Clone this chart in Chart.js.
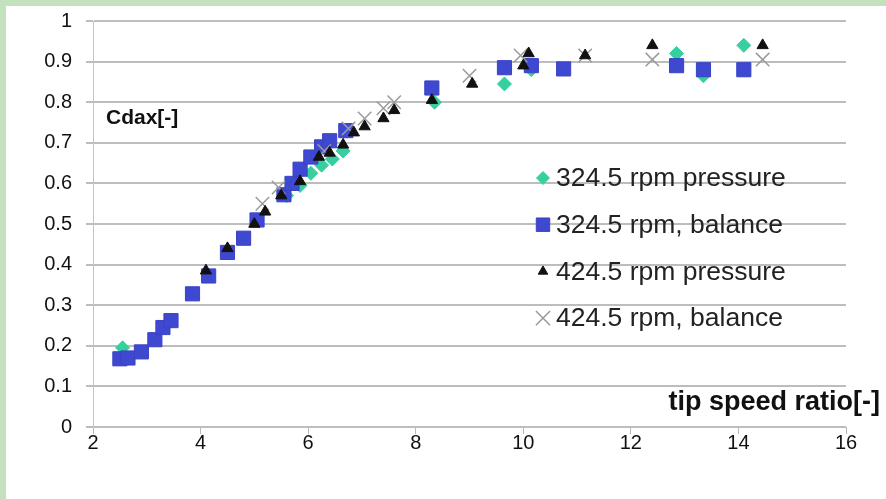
<!DOCTYPE html>
<html>
<head>
<meta charset="utf-8">
<script src="https://cdn.jsdelivr.net/npm/chart.js@4/dist/chart.umd.min.js"></script>
<style>
  html, body { margin: 0; padding: 0; background: #fff; }
  #wrap { position: relative; width: 886px; height: 499px; }
</style>
</head>
<body>
<div id="wrap"><canvas id="cdaxChart" width="886" height="499"></canvas></div>
<script>
// 데이터: 끝속도비(tip speed ratio) 대비 Cdax
const xTicks = [2, 4, 6, 8, 10, 12, 14, 16];
const seriesLabels = ['324.5 rpm pressure', '324.5 rpm, balance', '424.5 rpm pressure', '424.5 rpm, balance'];

const p324Tsr = [2.55, 5.6, 5.85, 6.05, 6.25, 6.45, 6.65, 8.35, 9.65, 10.15, 12.85, 13.35, 14.1];
const p324Cd  = [0.195, 0.57, 0.595, 0.625, 0.645, 0.66, 0.68, 0.80, 0.845, 0.88, 0.92, 0.865, 0.94];

const b324Tsr = [2.5, 2.65, 2.9, 3.15, 3.3, 3.45, 3.85, 4.15, 4.5, 4.8, 5.05, 5.55, 5.7, 5.85, 6.05, 6.25, 6.4, 6.7, 8.3, 9.65, 10.15, 10.75, 12.85, 13.35, 14.1];
const b324Cd  = [0.168, 0.17, 0.185, 0.215, 0.245, 0.262, 0.328, 0.372, 0.43, 0.465, 0.51, 0.572, 0.60, 0.635, 0.665, 0.69, 0.705, 0.73, 0.835, 0.885, 0.89, 0.882, 0.89, 0.88, 0.88];

const p424Tsr = [4.1, 4.5, 5.0, 5.2, 5.5, 5.85, 6.2, 6.4, 6.65, 6.85, 7.05, 7.4, 7.6, 8.3, 9.05, 10.0, 10.1, 11.15, 12.4, 14.45];
const p424Cd  = [0.385, 0.44, 0.50, 0.53, 0.57, 0.605, 0.665, 0.675, 0.695, 0.725, 0.74, 0.76, 0.78, 0.805, 0.845, 0.89, 0.92, 0.915, 0.94, 0.94];

const b424Tsr = [5.15, 5.45, 6.3, 6.75, 7.05, 7.4, 7.6, 9.0, 9.95, 11.15, 12.4, 14.45];
const b424Cd  = [0.55, 0.59, 0.68, 0.735, 0.76, 0.785, 0.80, 0.865, 0.915, 0.915, 0.905, 0.905];

const toPoints = (xs, ys) => xs.map((x, i) => ({ x, y: ys[i] }));

const FONT = "'Liberation Sans', Arial, sans-serif";

// 배경 테두리 + 축 제목 + 차트 안쪽 범례
const decorPlugin = {
  id: 'decor',
  beforeDraw(chart) {
    const c = chart.ctx;
    c.save();
    c.fillStyle = '#c3e1bd';
    c.fillRect(0, 0, chart.width, 6);
    c.fillRect(0, 0, 6, chart.height);
    c.restore();
  },
  afterDraw(chart) {
    const c = chart.ctx;
    const { left, bottom } = chart.chartArea;
    c.save();
    c.fillStyle = '#111';
    c.textBaseline = 'middle';
    c.textAlign = 'left';
    c.font = `bold 21px ${FONT}`;
    c.fillText('Cdax[-]', left + 13, 118);
    c.textAlign = 'right';
    c.font = `bold 27px ${FONT}`;
    c.fillText('tip speed ratio[-]', chart.width - 6, bottom - 24);

    // 범례
    c.font = `26.5px ${FONT}`;
    c.textAlign = 'left';
    chart.data.datasets.forEach((ds, i) => {
      const y = 178 + i * 46.7;
      const x = left + 450;
      c.fillStyle = ds.backgroundColor;
      c.strokeStyle = ds.borderColor;
      c.lineWidth = ds.borderWidth;
      Chart.helpers.drawPoint(c, {
        pointStyle: ds.pointStyle,
        radius: ds.legendRadius,
        borderWidth: ds.borderWidth,
      }, x, y);
      c.fillStyle = '#222';
      c.fillText(ds.label, x + 13, y + 1);
    });
    c.restore();
  },
};

new Chart(document.getElementById('cdaxChart').getContext('2d'), {
  type: 'scatter',
  data: {
    datasets: [
      {
        label: seriesLabels[0],
        data: toPoints(p324Tsr, p324Cd),
        pointStyle: 'rectRot',
        pointRadius: 7,
        legendRadius: 6.5,
        backgroundColor: '#36cf9f',
        borderColor: '#36cf9f',
        borderWidth: 1,
        order: 4,
      },
      {
        label: seriesLabels[1],
        data: toPoints(b324Tsr, b324Cd),
        pointStyle: 'rect',
        pointRadius: 10,
        legendRadius: 9.5,
        backgroundColor: '#3f48d0',
        borderColor: '#3a43c4',
        borderWidth: 1,
        order: 3,
      },
      {
        label: seriesLabels[2],
        data: toPoints(p424Tsr, p424Cd),
        pointStyle: 'triangle',
        pointRadius: 6.5,
        legendRadius: 5.5,
        backgroundColor: '#111',
        borderColor: '#111',
        borderWidth: 1,
        order: 1,
      },
      {
        label: seriesLabels[3],
        data: toPoints(b424Tsr, b424Cd),
        pointStyle: 'crossRot',
        pointRadius: 9.5,
        legendRadius: 10,
        backgroundColor: '#9a9a9a',
        borderColor: '#9a9a9a',
        borderWidth: 1.5,
        order: 2,
      },
    ],
  },
  options: {
    responsive: false,
    animation: false,
    layout: { padding: { top: 21, right: 40, left: 0, bottom: 0 } },
    plugins: { legend: { display: false }, tooltip: { enabled: false } },
    scales: {
      x: {
        type: 'linear',
        min: 2,
        max: 16,
        afterBuildTicks: (s) => { s.ticks = xTicks.map((v) => ({ value: v })); },
        afterFit: (s) => { s.height = 72; s.paddingLeft = 0; s.paddingRight = 0; },
        grid: { drawOnChartArea: false, drawTicks: true, tickLength: 7, color: '#b8b8b8', lineWidth: 1 },
        border: { display: false },
        ticks: { font: { family: FONT, size: 20 }, color: '#111', padding: -3 },
      },
      y: {
        min: 0,
        max: 1,
        ticks: {
          stepSize: 0.1,
          font: { family: FONT, size: 20 },
          color: '#111',
          padding: 14,
          callback: (v) => String(+v.toFixed(1)),
        },
        afterFit: (s) => { s.width = 93; s.paddingTop = 0; s.paddingBottom = 0; },
        grid: { color: '#bdbdbd', lineWidth: 2, tickLength: 7 },
        border: { display: true, color: '#c4c4c4', width: 1 },
      },
    },
  },
  plugins: [decorPlugin],
});
</script>
</body>
</html>
